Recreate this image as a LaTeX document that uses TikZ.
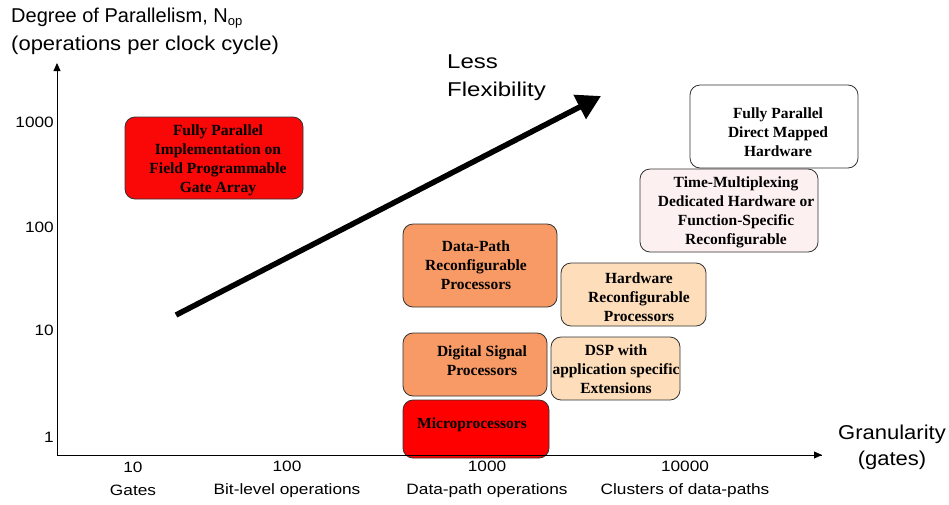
\documentclass[tikz,border=0pt]{standalone}
\usepackage{fontspec}
\setmainfont{Liberation Serif}
\setsansfont{Liberation Sans}
\newfontfamily\sansA[FakeStretch=1.15]{Liberation Sans}
\newfontfamily\sansB[FakeStretch=1.1]{Liberation Sans}
\newfontfamily\sansC[FakeStretch=1.2]{Liberation Sans}
\usetikzlibrary{arrows.meta}
\definecolor{boxred}{RGB}{250,8,8}
\definecolor{microred}{RGB}{255,0,0}
\definecolor{orangebox}{RGB}{248,154,102}
\definecolor{peachbox}{RGB}{253,221,186}
\definecolor{pinkbox}{RGB}{253,240,240}
\definecolor{edgegray}{RGB}{50,50,50}
\tikzset{
  procbox/.style={draw=edgegray, line width=0.8pt, rounded corners=10pt},
  boxtext/.style={align=center, font=\fontsize{15.5}{19}\selectfont\bfseries, inner sep=0pt},
  axistext/.style={font=\sansA\fontsize{15}{18}\selectfont, inner sep=0pt},
  ticklabel/.style={align=center, font=\sansA\fontsize{15}{23}\selectfont, inner sep=0pt},
  titletext/.style={inner sep=0pt, anchor=west},
  axisline/.style={line width=0.8pt, -{Triangle[length=8pt,width=7pt]}}
}
\begin{document}
\begin{tikzpicture}[x=1pt,y=-1pt]
\useasboundingbox (0,0) rectangle (949,504);
% axes
\coordinate (origin) at (57,455);
\coordinate (ytop) at (57,63);
\coordinate (xend) at (822,455);
\draw[axisline] (origin) -- (ytop);
\draw[axisline] (origin) -- (xend);
% titles
\node[titletext, font=\sffamily\fontsize{20}{26}\selectfont] (ttl1) at (11,18) {Degree of Parallelism, N\raisebox{-3pt}{\fontsize{13}{13}\selectfont op}};
\node[titletext, font=\sansB\fontsize{20}{26}\selectfont] (ttl2) at (11,45) {(operations per clock cycle)};
\node[align=center, inner sep=0pt, font=\sansB\fontsize{20}{26}\selectfont] (gran) at (892,447) {Granularity\\(gates)};
% y ticks
\node[axistext, anchor=east] (y1000) at (54,122) {1000};
\node[axistext, anchor=east] (y100) at (54,227) {100};
\node[axistext, anchor=east] (y10) at (54,330) {10};
\node[axistext, anchor=east] (y1) at (54,437) {1};
% x ticks
\node[ticklabel] (x10) at (133,479) {10\\Gates};
\node[ticklabel] (x100) at (287,479) {100\\Bit-level operations};
\node[ticklabel] (x1000) at (487,479) {1000\\Data-path operations};
\node[ticklabel] (x10000) at (685,479) {10000\\Clusters of data-paths};
% flexibility arrow
\coordinate (fa) at (176,315);
\coordinate (fb) at (601,96);
\draw[line width=5.5pt, -{Triangle[length=24pt,width=26pt]}] (fa) -- (fb);
\node[align=left, anchor=west, inner sep=0pt, font=\sansC\fontsize{20}{28}\selectfont] (flex) at (447,78) {Less\\Flexibility};
% boxes
\draw[procbox, fill=boxred] (125,117) rectangle (303,199);
\node[boxtext] (fpga) at (218,160) {Fully Parallel\\Implementation on\\Field Programmable\\Gate Array};

\draw[procbox, fill=white] (690,85) rectangle (858,168);
\node[boxtext] (fpdm) at (778,132) {Fully Parallel\\Direct Mapped\\Hardware};

\draw[procbox, fill=pinkbox] (640,169) rectangle (818,252);
\node[boxtext] (tmdh) at (736,212) {Time-Multiplexing\\Dedicated Hardware or\\Function-Specific\\Reconfigurable};

\draw[procbox, fill=orangebox] (403,224) rectangle (557,307);
\node[boxtext] (dprp) at (476,265) {Data-Path\\Reconfigurable\\Processors};

\draw[procbox, fill=peachbox] (561,263) rectangle (706,326);
\node[boxtext] (hwrp) at (639,297) {Hardware\\Reconfigurable\\Processors};

\draw[procbox, fill=orangebox] (403,333) rectangle (547,396);
\node[boxtext] (dsp) at (482,361) {Digital Signal\\Processors};

\draw[procbox, fill=peachbox] (551,337) rectangle (680,400);
\node[boxtext] (dspx) at (616,369) {DSP with\\application specific\\Extensions};

\draw[procbox, fill=microred] (403,400) rectangle (549,458);
\node[boxtext] (micro) at (472,425) {Microprocessors};
\draw[line width=0.8pt] (origin) -- (xend);
\end{tikzpicture}
\end{document}
